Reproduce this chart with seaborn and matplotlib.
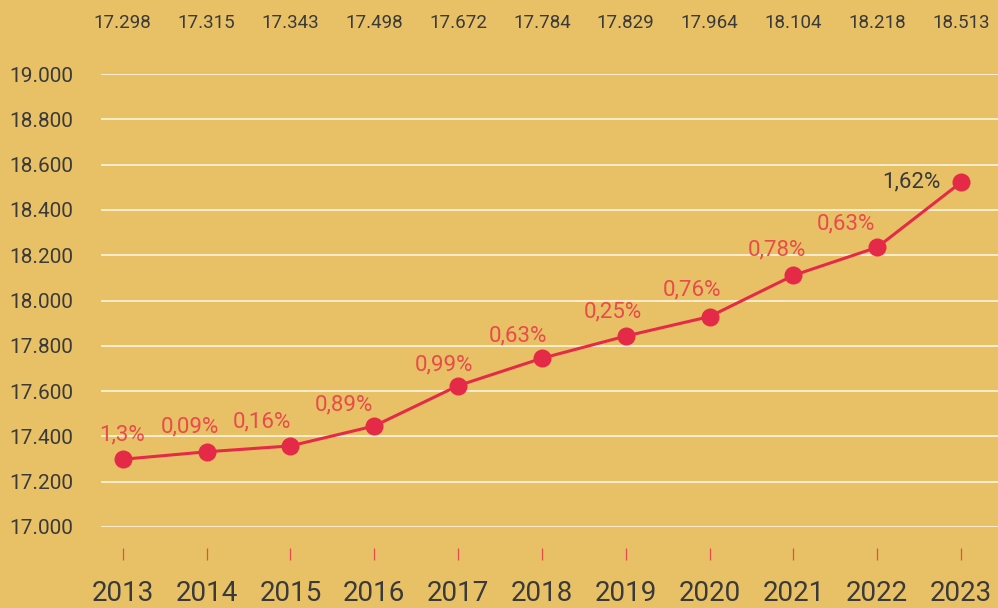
import matplotlib
matplotlib.use("Agg")
import matplotlib.pyplot as plt
import matplotlib.transforms as mtransforms
import seaborn as sns
import pandas as pd

# ---- data ----
years = [2013, 2014, 2015, 2016, 2017, 2018, 2019, 2020, 2021, 2022, 2023]
values = [17299, 17332, 17358, 17446, 17624, 17745, 17843, 17929, 18111, 18235, 18522]
top_labels = ["17.298", "17.315", "17.343", "17.498", "17.672", "17.784",
              "17.829", "17.964", "18.104", "18.218", "18.513"]
pct_labels = ["1,3%", "0,09%", "0,16%", "0,89%", "0,99%", "0,63%",
              "0,25%", "0,76%", "0,78%", "0,63%", "1,62%"]
y_ticks = [17000, 17200, 17400, 17600, 17800, 18000, 18200, 18400, 18600, 18800, 19000]
y_tick_labels = ["17.000", "17.200", "17.400", "17.600", "17.800", "18.000",
                 "18.200", "18.400", "18.600", "18.800", "19.000"]

# ---- styling / placement (pixels) ----
label_offsets_px = [(-1, 24), (-17, 25), (-29, 24), (-30, 21), (-14, 21), (-24, 22),
                    (-13, 24), (-18, 27), (-17, 25), (-31, 23), (-50, 0)]
BG = "#E8C167"
RED = "#E52A47"
TXT_RED = "#E94B4B"
DARK = "#3A3A3A"

sns.set_theme(style="white")
plt.rcParams["font.family"] = ["Roboto", "DejaVu Sans"]

df = pd.DataFrame({"year": years, "value": values})

fig = plt.figure(figsize=(9.98, 6.08), dpi=100)
fig.patch.set_facecolor(BG)
ax = fig.add_axes([101 / 998, (608 - 527) / 608, 897 / 998, 453 / 608])
ax.set_facecolor(BG)

sns.lineplot(data=df, x="year", y="value", ax=ax, color=RED, linewidth=2.2,
             marker="o", markersize=13, markeredgewidth=0, zorder=5)

ax.set_xlim(2012.74, 2023.44)
ax.set_ylim(17000, 19000)
ax.set_yticks(y_ticks)
ax.set_yticklabels(y_tick_labels)
ax.set_xticks(years)
ax.set_xticklabels([str(y) for y in years])
ax.set_xlabel("")
ax.set_ylabel("")

for yv in y_ticks:
    ax.axhline(yv, color="#FBF1D6", linewidth=1.3, zorder=1)

for s in ["top", "right", "left"]:
    ax.spines[s].set_visible(False)
ax.spines["bottom"].set_position(("outward", 21 * 0.72))
ax.spines["bottom"].set_color("none")

ax.tick_params(axis="x", which="major", direction="out", length=12 * 0.72,
               width=0.9, color=TXT_RED, labelsize=20, labelcolor=DARK, pad=14.5,
               bottom=True)
ax.tick_params(axis="y", which="major", length=0, labelsize=15, labelcolor=DARK,
               pad=28 * 0.72)

# percent labels
for i, (x, y, t) in enumerate(zip(years, values, pct_labels)):
    dx, dy = label_offsets_px[i]
    col = DARK if i == len(years) - 1 else TXT_RED
    ax.annotate(t, (x, y), xytext=(dx * 0.72, dy * 0.72), textcoords="offset points",
                ha="center", va="center", fontsize=16, color=col, zorder=6)

# top value labels
trans = mtransforms.blended_transform_factory(ax.transData, ax.transAxes)
for x, t in zip(years, top_labels):
    ax.text(x, (527 - 23) / 453, t, transform=trans, ha="center", va="center",
            fontsize=13.5, color=DARK)

fig.savefig("out.png", dpi=100, facecolor=BG)
